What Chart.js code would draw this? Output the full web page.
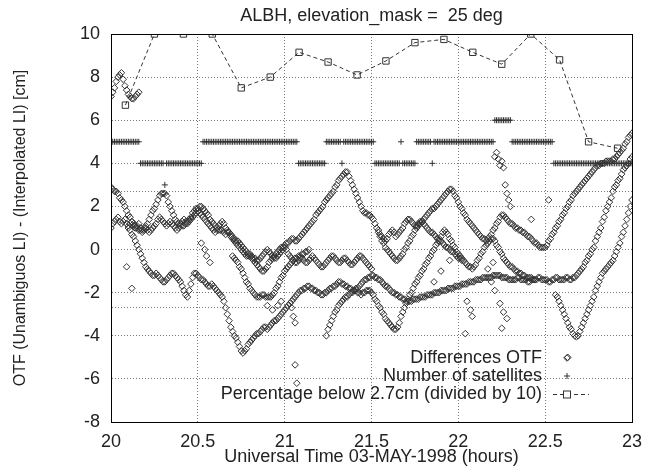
<!DOCTYPE html>
<html>
<head>
<meta charset="utf-8">
<script src="https://cdn.jsdelivr.net/npm/chart.js@4.4.1/dist/chart.umd.min.js"></script>
<style>
  html, body { margin: 0; padding: 0; background: #fff; }
  #wrap { width: 653px; height: 468px; }
</style>
</head>
<body>
<div id="wrap"><canvas id="chart" width="653" height="468"></canvas></div>
<script>
// --- data ---
// OTF differences, one array per satellite track, epochs every 0.01 h from its start time
var otfStep = 0.01;
var otfStarts = [20.00, 20.00, 20.00, 20.10, 20.70, 21.24, 21.54, 22.56];
var otfHigh = [7.1, 7.3, 7.5, 7.8, 8.0, 8.1, 8.2, 7.9, 7.6, 7.4, 7.2, 7.1, 7.0, 7.0, 7.1, 7.2, 7.3];
var otfTrack1 = [
  2.9, 2.8, 2.7, 2.7, 2.6, 2.4, 2.3, 2.2, 2.0, 1.8,
  1.6, 1.5, 1.3, 1.2, 1.1, 1.0, 0.9, 0.9, 0.8, 0.9,
  1.0, 1.2, 1.4, 1.6, 1.8, 1.9, 2.1, 2.3, 2.5, 2.6,
  2.6, 2.6, 2.5, 2.2, 2.0, 1.8, 1.6, 1.4, 1.3, 1.2,
  1.2, 1.1, 1.1, 1.2, 1.3, 1.4, 1.5, 1.7, 1.8, 1.9,
  1.9, 2.0, 2.0, 1.9, 1.8, 1.7, 1.6, 1.4, 1.3, 1.2,
  1.1, 1.0, 0.9, 0.9, 0.9, 0.8, 0.7, 0.8, 0.8, 0.7,
  0.6, 0.5, 0.4, 0.4, 0.3, 0.2, 0.1, 0.0, -0.1, -0.2,
  -0.3, -0.4, -0.5, -0.6, -0.7, -0.8, -0.9, -1.0, -1.0, -0.9,
  -0.8, -0.6, -0.5, -0.4, -0.3, -0.2, -0.1, 0.0, 0.1, 0.1,
  0.2, 0.3, 0.3, 0.4, 0.5, 0.5, 0.4, 0.4, 0.5, 0.6,
  0.7, 0.8, 0.9, 1.0, 1.1, 1.2, 1.3, 1.4, 1.6, 1.7,
  1.8, 1.9, 2.0, 2.2, 2.3, 2.4, 2.5, 2.6, 2.7, 2.9,
  3.0, 3.2, 3.3, 3.4, 3.5, 3.6, 3.6, 3.4, 3.2, 3.0,
  2.8, 2.6, 2.4, 2.2, 2.0, 1.8, 1.7, 1.7, 1.6, 1.6,
  1.5, 1.4, 1.2, 1.0, 0.8, 0.6, 0.4, 0.3, 0.1, 0.0,
  -0.1, -0.2, -0.3, -0.4, -0.5, -0.5, -0.4, -0.3, -0.2, 0.0,
  0.1, 0.3, 0.4, 0.6, 0.7, 0.9, 1.0, 1.1, 1.2, 1.3,
  1.4, 1.5, 1.6, 1.7, 1.8, 1.9, 1.9, 2.0, 2.1, 2.2,
  2.3, 2.4, 2.5, 2.6, 2.7, 2.8, 2.8, 2.7, 2.5, 2.4,
  2.2, 2.0, 1.9, 1.7, 1.6, 1.4, 1.3, 1.2, 1.1, 1.0,
  0.9, 0.8, 0.7, 0.6, 0.5, 0.5, 0.4, 0.5, 0.6, 0.7,
  0.9, 1.0, 1.2, 1.3, 1.5, 1.6, 1.6, 1.5, 1.4, 1.3,
  1.2, 1.2, 1.1, 1.0, 1.0, 0.9, 0.9, 0.8, 0.8, 0.7,
  0.6, 0.6, 0.5, 0.4, 0.3, 0.3, 0.2, 0.1, 0.1, 0.1,
  0.1, 0.2, 0.4, 0.5, 0.7, 0.8, 1.0, 1.1, 1.3, 1.4,
  1.6, 1.7, 1.9, 2.0, 2.2, 2.3, 2.5, 2.6, 2.7, 2.8,
  2.9, 3.0, 3.1, 3.2, 3.3, 3.4, 3.5, 3.6, 3.7, 3.8,
  3.9, 3.9, 4.0, 4.0, 4.0, 4.1, 4.1, 4.1, 4.1, 4.2,
  4.2, 4.3, 4.4, 4.5, 4.6, 4.7, 4.9, 5.0, 5.2, 5.3,
  5.4
];
var otfTrack2 = [
  1.0, 1.2, 1.3, 1.4, 1.5, 1.3, 1.2, 1.3, 1.4, 1.2,
  1.1, 1.2, 1.3, 1.1, 1.0, 1.1, 1.2, 1.0, 0.9, 1.0,
  1.1, 0.9, 0.8, 0.9, 1.0, 1.1, 1.2, 1.4, 1.5, 1.4,
  1.3, 1.2, 1.1, 1.2, 1.3, 1.2, 1.1, 1.0, 0.9, 1.0,
  1.1, 1.3, 1.4, 1.3, 1.2, 1.3, 1.4, 1.5, 1.6, 1.7,
  1.8, 1.7, 1.6, 1.5, 1.4, 1.3, 1.2, 1.1, 1.0, 0.9,
  0.8, 0.9, 1.1, 1.2, 1.3, 1.2, 1.0, 0.9, 0.8, 0.6,
  0.5, 0.4, 0.3, 0.2, 0.1, 0.0, -0.1, -0.2, -0.3, -0.3,
  -0.2, -0.3, -0.4, -0.4, -0.5, -0.5, -0.4, -0.3, -0.2, -0.1,
  0.0, -0.1, -0.2, -0.3, -0.4, -0.4, -0.3, -0.2, -0.1, 0.0,
  0.1, 0.0, -0.2, -0.3, -0.4, -0.5, -0.6, -0.6, -0.5, -0.4,
  -0.4, -0.5, -0.6, -0.6, -0.5, -0.4, -0.3, -0.4, -0.5, -0.6,
  -0.7, -0.8, -0.8, -0.7, -0.6, -0.5, -0.4, -0.3, -0.3, -0.4,
  -0.5, -0.6, -0.6, -0.5, -0.4, -0.4, -0.5, -0.6, -0.7, -0.7,
  -0.6, -0.5, -0.4, -0.3, -0.3, -0.4, -0.5, -0.6, -0.7, -0.8,
  -0.9
];
var otfTrack3 = [
  1.0, 0.9, 0.7, 0.6, 0.4, 0.2, 0.0, -0.2, -0.4, -0.6,
  -0.8, -0.9, -1.0, -1.1, -1.2, -1.2, -1.1, -1.2, -1.3, -1.4,
  -1.5, -1.5, -1.4, -1.3, -1.2, -1.1, -1.1, -1.2, -1.3, -1.4,
  -1.5, -1.7, -1.9, -2.1, -2.2, -1.9, -1.6, -1.3, -1.1, -1.1,
  -1.2, -1.3, -1.4, -1.4, -1.5, -1.6, -1.7, -1.7, -1.6, -1.7,
  -1.8, -1.9, -2.0, -2.1, -2.2, -2.4, -2.7, -3.0, -3.3, -3.6,
  -3.8, -4.0, -4.1, -4.3, -4.5, -4.7, -4.8, -4.7, -4.6, -4.4,
  -4.3, -4.2, -4.1, -4.0, -3.9, -3.9, -3.8, -3.7, -3.6, -3.6,
  -3.7, -3.6, -3.5, -3.4, -3.3, -3.3, -3.2, -3.1, -3.0, -2.9,
  -2.8, -2.7, -2.6, -2.5, -2.4, -2.3, -2.2, -2.1, -2.0, -1.9,
  -1.9, -1.8, -1.8, -1.7, -1.7, -1.8, -1.8, -1.9, -1.9, -2.0,
  -2.0, -2.1, -2.1, -2.0, -2.0, -1.9, -1.8, -1.8, -1.7, -1.7,
  -1.6, -1.5, -1.5, -1.6, -1.6, -1.7, -1.7, -1.8, -1.8, -1.9,
  -1.9, -1.8, -1.8, -1.7, -1.6, -1.5, -1.4, -1.4, -1.3, -1.3,
  -1.2, -1.2, -1.3, -1.3, -1.4, -1.4, -1.5, -1.6, -1.7, -1.7,
  -1.8, -1.9, -2.0, -2.0, -2.1, -2.1, -2.2, -2.2, -2.3, -2.3,
  -2.4, -2.4, -2.4, -2.4, -2.3, -2.3, -2.3, -2.3, -2.2, -2.2,
  -2.2, -2.2, -2.1, -2.1, -2.1, -2.1, -2.0, -2.0, -2.0, -2.0,
  -1.9, -1.9, -1.9, -1.9, -1.8, -1.8, -1.8, -1.8, -1.7, -1.7,
  -1.7, -1.7, -1.6, -1.6, -1.6, -1.6, -1.5, -1.5, -1.5, -1.5,
  -1.4, -1.4, -1.4, -1.4, -1.3, -1.3, -1.3, -1.3, -1.3, -1.3,
  -1.2, -1.2, -1.2, -1.2, -1.2, -1.3, -1.3, -1.3, -1.3, -1.4,
  -1.4, -1.4, -1.4, -1.4, -1.3, -1.3, -1.4, -1.4, -1.4, -1.4,
  -1.5, -1.5, -1.4, -1.4, -1.4, -1.4, -1.3, -1.3, -1.4, -1.4,
  -1.4, -1.4, -1.5, -1.5, -1.4, -1.4, -1.3, -1.3, -1.4, -1.4,
  -1.4, -1.4, -1.3, -1.3, -1.4, -1.4, -1.3, -1.3, -1.2, -1.1,
  -1.0, -0.9, -0.8, -0.6, -0.5, -0.3, -0.2, 0.0, 0.1, 0.4,
  0.6, 0.8, 1.0, 1.3, 1.5, 1.8, 2.0, 2.2, 2.4, 2.7,
  2.9, 3.0, 3.2, 3.3, 3.5, 3.7, 3.8, 3.9, 4.0, 4.2,
  4.3
];
var otfTrack4 = [
  -0.3, -0.4, -0.5, -0.6, -0.8, -0.9, -1.1, -1.3, -1.5, -1.6,
  -1.8, -1.9, -2.0, -2.1, -2.2, -2.2, -2.2, -2.1, -2.1, -2.2,
  -2.2, -2.2, -2.2, -2.1, -2.0, -1.8, -1.7, -1.5, -1.3, -1.2,
  -1.0, -0.9, -0.8, -0.7, -0.6, -0.5, -0.4, -0.4, -0.3, -0.3,
  -0.2, -0.2, -0.1, -0.1, 0.0
];
var otfTrack5 = [
  -4.0, -3.7, -3.5, -3.3, -3.1, -2.9, -2.8, -2.6, -2.5, -2.4,
  -2.3, -2.2, -2.2, -2.1, -2.0, -2.0, -1.9, -1.9, -2.0, -2.0,
  -2.1, -2.0, -2.0, -1.9, -1.9, -1.9, -2.0, -2.1, -2.3, -2.4,
  -2.6, -2.7, -2.9, -3.0, -3.2, -3.3, -3.4, -3.5, -3.6, -3.7,
  -3.7, -3.6, -3.4, -3.1, -2.9, -2.7, -2.5, -2.3, -2.1, -2.0,
  -1.8, -1.6, -1.5, -1.3, -1.2, -1.0, -0.9, -0.7, -0.6, -0.4,
  -0.3, -0.1, 0.0, 0.2, 0.3, 0.5, 0.6, 0.8, 0.9, 0.8,
  0.7, 0.5, 0.4, 0.2, 0.1, -0.1, -0.2, -0.3, -0.4, -0.5,
  -0.6, -0.7, -0.8, -0.8, -0.9, -0.8, -0.7, -0.5, -0.4, -0.2,
  -0.1, 0.1, 0.2, 0.3, 0.4, 0.5, 0.5, 0.4, 0.2, 0.1,
  -0.1, -0.2, -0.4, -0.5, -0.6, -0.7, -0.8, -0.8, -0.9, -1.0,
  -1.0, -1.1, -1.1, -1.2, -1.2, -1.3, -1.3, -1.3, -1.3, -1.4,
  -1.4
];
var otfTrack6 = [
  0.9, 0.7, 0.6, 0.5, 0.4, 0.5, 0.7, 0.8, 0.9, 0.8,
  0.6, 0.7, 0.8, 0.9, 1.0, 1.2, 1.3, 1.4, 1.4, 1.3,
  1.2, 1.1, 1.1, 1.2, 1.3, 1.3, 1.2, 1.1, 1.0, 0.9,
  0.8, 0.8, 0.7, 0.6, 0.5, 0.4, 0.4, 0.3, 0.2, 0.1,
  0.1, 0.0, -0.1, -0.1, -0.2, -0.3, -0.4, -0.4, -0.5
];
var otfTrack7 = [
  -2.1, -2.2, -2.4, -2.6, -2.8, -3.0, -3.2, -3.4, -3.6, -3.7,
  -3.9, -4.0, -4.05, -4.0, -3.8, -3.6, -3.4, -3.2, -3.0, -2.8,
  -2.6, -2.4, -2.2, -1.9, -1.7, -1.5, -1.3, -1.1, -1.0, -0.9,
  -0.8, -0.7, -0.6, -0.5, -0.3, -0.1, 0.1, 0.3, 0.6, 0.8,
  1.1, 1.4, 1.7, 2.0, 2.3
];
var otfTracks = [otfHigh, otfTrack1, otfTrack2, otfTrack3, otfTrack4, otfTrack5, otfTrack6, otfTrack7];
// stray single epochs
var otfExtraX = [20.09, 20.12, 20.52, 20.54, 20.55, 20.57, 20.90, 20.93, 20.96, 20.98,
  21.04, 21.05, 21.06, 21.06, 21.07, 21.86, 21.90, 21.95, 22.04, 22.05,
  22.07, 22.08, 22.17, 22.19, 22.20, 22.21, 22.21, 22.22, 22.23, 22.24,
  22.24, 22.25, 22.25, 22.26, 22.26, 22.27, 22.28, 22.28, 22.29, 22.30,
  22.42, 22.52, 22.63];
var otfExtraY = [-0.8, -1.8, 0.3, 0.0, -0.3, -0.6, -2.6, -2.8, -2.6, -2.4,
  -2.7, -3.1, -3.4, -5.35, -6.2, -1.5, -1.0, -0.5, -3.9, -2.4,
  -2.8, -3.1, -0.9, -1.5, -0.6, -1.9, 4.3, 4.5, 4.2, 3.9,
  -2.5, 4.1, -3.65, 3.8, -2.9, 3.0, 2.6, -3.2, 2.3, 2.0,
  1.4, 2.3, -5.0];

// number of satellites: runs of [first epoch, last epoch, count], epochs every 0.01 h
var satStep = 0.01;
var satRuns = [
  [20.00, 20.16, 5], [20.17, 20.30, 4], [20.31, 20.31, 3], [20.32, 20.52, 4],
  [20.53, 21.07, 5], [21.08, 21.23, 4], [21.24, 21.32, 5], [21.33, 21.33, 4],
  [21.34, 21.51, 5], [21.52, 21.66, 4], [21.67, 21.67, 5], [21.68, 21.75, 4],
  [21.76, 21.84, 5], [21.85, 21.85, 4], [21.86, 22.20, 5], [22.21, 22.30, 6],
  [22.31, 22.54, 5], [22.55, 23.00, 4]
];

// percentage below 2.7 cm, divided by 10
var pctTimes = [20.083, 20.25, 20.417, 20.583, 20.75, 20.917, 21.083, 21.25, 21.417,
  21.583, 21.75, 21.917, 22.083, 22.25, 22.417, 22.583, 22.75, 22.917];
var pctValues = [6.7, 10.0, 10.0, 10.0, 7.5, 8.0, 9.15, 8.7, 8.1,
  8.75, 9.6, 9.75, 9.15, 8.6, 10.0, 8.8, 5.0, 4.7];

var xTicks = [20, 20.5, 21, 21.5, 22, 22.5, 23];
var yTicks = [-8, -6, -4, -2.7, -2, 0, 2, 2.7, 4, 6, 8, 10];
var yTickLabels = [-8, -6, -4, -2, 0, 2, 4, 6, 8, 10];

// --- build datasets ---
var otfPoints = [];
otfTracks.forEach(function(track, k){
  track.forEach(function(v, i){
    otfPoints.push({x: otfStarts[k] + i * otfStep, y: v});
  });
});
otfExtraX.forEach(function(x, i){ otfPoints.push({x: x, y: otfExtraY[i]}); });

var satPoints = [];
satRuns.forEach(function(r){
  var n = Math.round((r[1] - r[0]) / satStep);
  for (var i = 0; i <= n; i++) satPoints.push({x: r[0] + i * satStep, y: r[2]});
});

var pctPoints = pctTimes.map(function(t, i){ return {x: t, y: pctValues[i]}; });

var ink = '#333';
var font = '"Liberation Sans", Arial, Helvetica, sans-serif';

var framePlugin = {
  id: 'frame',
  afterDraw: function(chart){
    var ctx = chart.ctx, a = chart.chartArea;
    ctx.save();
    ctx.strokeStyle = '#000';
    ctx.lineWidth = 1;
    ctx.strokeRect(Math.round(a.left) + 0.5, Math.round(a.top) + 0.5,
      Math.round(a.right - a.left), Math.round(a.bottom - a.top));

    // key, bottom right inside the plot
    var ds = chart.data.datasets;
    var tx = a.right - 90, sx = a.right - 65;
    var ys = [a.bottom - 64, a.bottom - 46, a.bottom - 28];
    ctx.font = '18px ' + font;
    ctx.fillStyle = '#222';
    ctx.textAlign = 'right';
    ctx.textBaseline = 'middle';
    ds.forEach(function(d, i){ ctx.fillText(d.label, tx, ys[i]); });

    ctx.strokeStyle = ink;
    ctx.lineWidth = 1;
    // diamond
    ctx.beginPath();
    ctx.moveTo(sx, ys[0] - 3.3); ctx.lineTo(sx + 3.3, ys[0]);
    ctx.lineTo(sx, ys[0] + 3.3); ctx.lineTo(sx - 3.3, ys[0]); ctx.closePath();
    ctx.stroke();
    // plus
    ctx.beginPath();
    ctx.moveTo(sx - 3, ys[1]); ctx.lineTo(sx + 3, ys[1]);
    ctx.moveTo(sx, ys[1] - 3); ctx.lineTo(sx, ys[1] + 3);
    ctx.stroke();
    // dashed line with square
    ctx.setLineDash([4, 3]);
    ctx.beginPath();
    ctx.moveTo(sx - 14, ys[2] + 0.5); ctx.lineTo(sx + 22, ys[2] + 0.5);
    ctx.stroke();
    ctx.setLineDash([]);
    ctx.fillStyle = '#fff';
    ctx.fillRect(sx - 3.5, ys[2] - 3, 7, 7);
    ctx.strokeRect(sx - 3.5, ys[2] - 3, 7, 7);
    ctx.restore();
  }
};

new Chart(document.getElementById('chart'), {
  type: 'scatter',
  data: {
    datasets: [{
      label: 'Differences OTF',
      data: otfPoints,
      pointStyle: 'rectRot',
      pointRadius: 3.3,
      borderWidth: 1,
      borderColor: ink,
      backgroundColor: 'rgba(255,255,255,0)'
    }, {
      label: 'Number of satellites',
      data: satPoints,
      pointStyle: 'cross',
      pointRadius: 3,
      borderWidth: 1,
      borderColor: ink
    }, {
      label: 'Percentage below 2.7cm (divided by 10)',
      data: pctPoints,
      showLine: true,
      borderDash: [4, 3],
      borderWidth: 1,
      borderColor: ink,
      pointStyle: 'rect',
      pointRadius: 4.5,
      pointBorderWidth: 1,
      backgroundColor: 'rgba(255,255,255,0)'
    }]
  },
  options: {
    responsive: false,
    animation: false,
    layout: { padding: { left: 0, right: 21, top: 0, bottom: 0 } },
    plugins: {
      legend: { display: false },
      tooltip: { enabled: false },
      title: {
        display: true,
        fullSize: false,
        text: 'ALBH, elevation_mask =  25 deg',
        color: '#222',
        font: { family: font, size: 18, weight: 'normal' },
        padding: { top: 5, bottom: 7.4 }
      }
    },
    scales: {
      x: {
        type: 'linear',
        min: 20, max: 23,
        afterFit: function(s){ s.height = 46; },
        afterBuildTicks: function(s){ s.ticks = xTicks.map(function(v){ return {value: v}; }); },
        ticks: {
          color: '#222', padding: 9,
          font: { family: font, size: 18 },
          callback: function(v){ return String(v); }
        },
        grid: { color: '#777', drawTicks: false },
        border: { color: '#000', dash: [1, 2] },
        title: {
          display: true,
          text: 'Universal Time 03-MAY-1998 (hours)',
          color: '#222',
          font: { family: font, size: 18 },
          padding: { top: 0, bottom: 0 }
        }
      },
      y: {
        min: -8, max: 10,
        afterFit: function(s){ s.width = 111; },
        afterBuildTicks: function(s){ s.ticks = yTicks.map(function(v){ return {value: v}; }); },
        ticks: {
          color: '#222', padding: 11,
          font: { family: font, size: 18 },
          callback: function(v){ return yTickLabels.indexOf(v) >= 0 ? String(v) : ''; }
        },
        grid: { color: '#777', drawTicks: false },
        border: { color: '#000', dash: [1, 2] },
        title: {
          display: true,
          text: 'OTF (Unambiguos LI) - (Interpolated LI) [cm]',
          color: '#222',
          font: { family: font, size: 16 },
          padding: { top: 11, bottom: 0 }
        }
      }
    }
  },
  plugins: [framePlugin]
});
</script>
</body>
</html>
